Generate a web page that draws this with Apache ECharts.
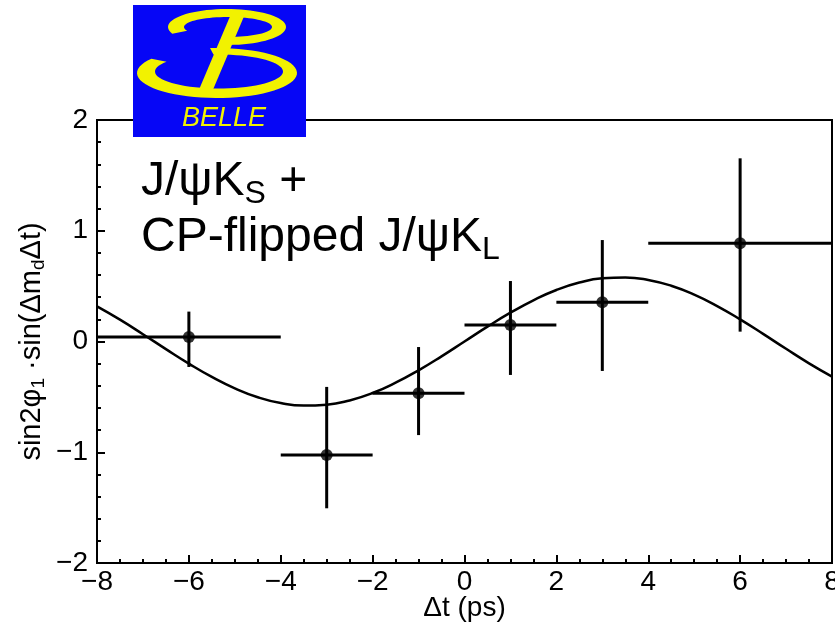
<!DOCTYPE html>
<html>
<head>
<meta charset="utf-8">
<script src="https://cdn.jsdelivr.net/npm/echarts@6/dist/echarts.min.js"></script>
<style>
  html, body { margin: 0; padding: 0; background: #fff; }
  #chart { width: 835px; height: 623px; }
</style>
</head>
<body>
<div id="chart"></div>
<script>
// binned asymmetry points (dt in ps)
const binCenter = [-6, -3, -1, 1, 3, 6]
const binLow = [-8, -4, -2, 0, 2, 4]
const binHigh = [-4, -2, 0, 2, 4, 8]
const asym = [0.04, -1.025, -0.468, 0.149, 0.354, 0.887]
const asymLow = [-0.23, -1.506, -0.845, -0.302, -0.266, 0.089]
const asymHigh = [0.27, -0.41, -0.05, 0.546, 0.916, 1.654]

// fitted curve
const curveX = [-8, -7.5, -7, -6.5, -6, -5.5, -5, -4.5, -4, -3.5, -3, -2.5, -2, -1.5, -1, -0.5,
  0, 0.5, 1, 1.5, 2, 2.5, 3, 3.5, 4, 4.5, 5, 5.5, 6, 6.5, 7, 7.5, 8]
const curveY = [0.317, 0.197, 0.066, -0.069, -0.200, -0.320, -0.423, -0.503, -0.556, -0.579, -0.571, -0.532, -0.465, -0.372, -0.260, -0.134,
  0, 0.134, 0.260, 0.372, 0.465, 0.532, 0.571, 0.579, 0.556, 0.503, 0.423, 0.320, 0.200, 0.069, -0.066, -0.197, -0.317]

const FONT = 'Liberation Sans'
const minus = (v) => String(v).replace('-', '\u2212')

const chart = echarts.init(document.getElementById('chart'))

// yellow elliptic stroke of the logo, as a polygon between two ellipses
function ringPoints(o, i, t0, t1) {
  const pts = []
  const n = 60
  for (let k = 0; k <= n; k++) {
    const t = (t0 + (t1 - t0) * k / n) * Math.PI / 180
    pts.push([o.cx + o.a * Math.cos(t), o.cy + o.b * Math.sin(t)])
  }
  for (let k = n; k >= 0; k--) {
    const t = (t0 + (t1 - t0) * k / n) * Math.PI / 180
    pts.push([i.cx + i.a * Math.cos(t), i.cy + i.b * Math.sin(t)])
  }
  return pts
}

const yellow = '#f2f200'
const blue = '#0606f6'

function renderErr(params, api) {
  const x = api.value(0)
  const y = api.value(1)
  const l = api.coord([api.value(2), y])
  const r = api.coord([api.value(3), y])
  const b = api.coord([x, api.value(4)])
  const t = api.coord([x, api.value(5)])
  const style = { stroke: '#000', lineWidth: 3 }
  return {
    type: 'group',
    children: [
      { type: 'line', shape: { x1: l[0], y1: l[1], x2: r[0], y2: r[1] }, style },
      { type: 'line', shape: { x1: t[0], y1: t[1], x2: b[0], y2: b[1] }, style }
    ]
  }
}

const errData = binCenter.map((x, i) => [x, asym[i], binLow[i], binHigh[i], asymLow[i], asymHigh[i]])

chart.setOption({
  animation: false,
  backgroundColor: '#fff',
  grid: {
    left: 97, right: 3, top: 120, bottom: 60,
    outerBoundsMode: 'none', containLabel: false,
    show: true, borderColor: '#000', borderWidth: 2, backgroundColor: 'transparent'
  },
  xAxis: {
    type: 'value', min: -8, max: 8, interval: 2,
    name: '\u0394t (ps)', nameLocation: 'middle', nameGap: 31, nameMoveOverlap: false,
    nameTextStyle: { fontFamily: FONT, fontSize: 28, color: '#000' },
    axisLine: { onZero: false, lineStyle: { color: '#000', width: 2 } },
    axisTick: { inside: true, length: 8, lineStyle: { color: '#000', width: 2 } },
    minorTick: { show: true, splitNumber: 4, length: 4, lineStyle: { color: '#000', width: 2 } },
    splitLine: { show: false },
    axisLabel: { fontFamily: FONT, fontSize: 28, color: '#000', margin: 5, formatter: minus, showMinLabel: true, showMaxLabel: true }
  },
  yAxis: {
    type: 'value', min: -2, max: 2, interval: 1,
    name: '{a|sin2\u03c6}{s|1}{a| \u00b7sin(\u0394m}{s|d}{a|\u0394t)}',
    nameLocation: 'middle', nameGap: 49, nameRotate: 90, nameMoveOverlap: false,
    nameTextStyle: {
      color: '#000',
      rich: {
        a: { fontFamily: FONT, fontSize: 29, color: '#000', lineHeight: 32 },
        s: { fontFamily: FONT, fontSize: 19, color: '#000', verticalAlign: 'bottom', lineHeight: 17 }
      }
    },
    axisLine: { onZero: false, lineStyle: { color: '#000', width: 2 } },
    axisTick: { inside: true, length: 8, lineStyle: { color: '#000', width: 2 } },
    minorTick: { show: true, splitNumber: 5, length: 4, lineStyle: { color: '#000', width: 2 } },
    splitLine: { show: false },
    axisLabel: { fontFamily: FONT, fontSize: 28, color: '#000', margin: 9, formatter: minus }
  },
  series: [
    {
      type: 'line',
      data: curveX.map((x, i) => [x, curveY[i]]),
      smooth: true,
      showSymbol: false,
      lineStyle: { color: '#000', width: 2.5 },
      z: 2
    },
    {
      type: 'custom',
      renderItem: renderErr,
      data: errData,
      encode: { x: 0, y: 1 },
      z: 3
    },
    {
      type: 'scatter',
      data: binCenter.map((x, i) => [x, asym[i]]),
      symbolSize: 12,
      itemStyle: { color: '#000' },
      z: 4
    }
  ],
  graphic: [
    {
      type: 'text', left: 141, top: 158, z: 10,
      style: {
        text: '{n|J/\u03c8K}{s|S}{n| +}\n{n|CP-flipped J/\u03c8K}{s|L}',
        rich: {
          n: { fontFamily: FONT, fontSize: 48, color: '#000', lineHeight: 56 },
          s: { fontFamily: FONT, fontSize: 32, color: '#000', verticalAlign: 'bottom', lineHeight: 24 }
        }
      }
    },
    // BELLE logo
    { type: 'rect', z: 20, shape: { x: 133, y: 5, width: 173, height: 132 }, style: { fill: blue } },
    {
      type: 'polygon', z: 21,
      shape: { points: ringPoints({ cx: 217, cy: 73, a: 80, b: 25 }, { cx: 219, cy: 71.5, a: 64, b: 17 }, -95, 215) },
      style: { fill: yellow }
    },
    {
      type: 'polygon', z: 21,
      shape: { points: ringPoints({ cx: 227, cy: 27, a: 59, b: 18 }, { cx: 228, cy: 27, a: 44, b: 10 }, 158, 448) },
      style: { fill: yellow }
    },
    {
      type: 'polygon', z: 21,
      shape: { points: [[231, 14], [245, 14], [212, 92], [198, 92]] },
      style: { fill: yellow }
    },
    {
      type: 'text', z: 21, x: 224, y: 118,
      style: {
        text: 'BELLE', fill: yellow, fontFamily: FONT, fontSize: 27, fontStyle: 'italic',
        align: 'center', verticalAlign: 'middle'
      }
    }
  ]
})
</script>
</body>
</html>
